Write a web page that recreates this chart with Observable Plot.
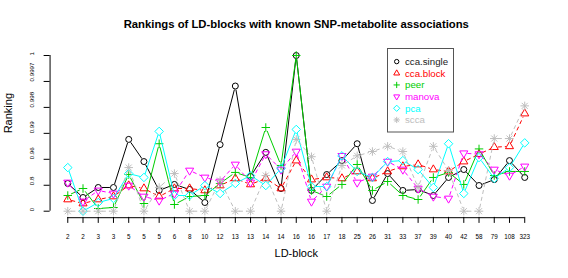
<!DOCTYPE html>
<html><head><meta charset="utf-8">
<script src="https://cdn.jsdelivr.net/npm/d3@7"></script>
<script src="https://cdn.jsdelivr.net/npm/@observablehq/plot@0.6"></script>
<style>
body{margin:0;background:#fff}
#wrap{position:relative;width:568px;height:278px;overflow:hidden}
#legend{position:absolute;left:387px;top:48px}
</style>
</head><body><div id="wrap"></div>
<script>
// ---- data ----
const blockLabels = ["2","2","3","3","5","5","5","6","8","10","12","13","13","14","14","16","16","17","18","25","26","31","33","37","39","40","42","58","79","108","323"];
const yTicks = [0, 0.8, 0.96, 0.99, 0.998, 0.9997, 1];
const seriesNames = ["cca.single", "cca.block", "peer", "manova", "pca", "scca"];
const seriesColors = ["#000000", "#ff0000", "#00cd00", "#ff00ff", "#00ffff", "#bebebe"];

const ccaSingle = [0.811,0.422,0.731,0.731,0.983,0.946,0.640,0.805,0.669,0.268,0.977,0.9994,0.854,0.968,0.700,1,0.640,0.866,0.952,0.978,0.330,0.872,0.640,0.669,0.484,0.848,0.897,0.792,0.835,0.952,0.848];
const ccaBlock  = [0.361,0.237,0.361,0.453,0.792,0.700,0.453,0.700,0.700,0.640,0.792,0.842,0.805,0.842,0.700,0.952,0.835,0.848,0.842,0.885,0.842,0.885,0.916,0.928,0.897,0.885,0.946,0.966,0.974,0.975,0.9961];
const peer      = [0.484,0.700,0.083,0.114,0.866,0.237,0.978,0.207,0.453,0.484,0.811,0.879,0.848,0.9918,0.922,1,0.640,0.453,0.805,0.928,0.640,0.823,0.484,0.361,0.848,0.879,0.805,0.972,0.860,0.885,0.885];
const manova    = [0.817,0.299,0.640,0.546,0.792,0.453,0.330,0.546,0.891,0.848,0.823,0.928,0.817,0.966,0.897,0.969,0.299,0.761,0.964,0.817,0.854,0.946,0.897,0.700,0.453,0.392,0.967,0.966,0.897,0.860,0.916];
const pca       = [0.909,0,0.268,0.392,0.872,0.848,0.9906,0.484,0.484,0.792,0.546,0.811,0.860,0.792,0.903,0.9912,0.761,0.761,0.964,0.885,0.848,0.946,0.952,0.897,0.731,0.978,0.546,0.962,0.842,0.909,0.979];
const scca      = [0,0,0,0,0.909,0,0.731,0.872,0,0,0.829,0,0,0.860,0,0.983,0.963,0,0.922,0.964,0.969,0.975,0.969,0.731,0.975,0.891,0,0,0.984,0.984,0.9981];
const seriesValues = [ccaSingle, ccaBlock, peer, manova, pca, scca];

// ---- R-like point symbols (pch 1, 2, 3, 6, 5, 8) ----
function sym(fn){ return {draw(ctx, size){ fn(ctx, Math.sqrt(size / Math.PI)); }}; }
const pchCircle = sym((c, r) => { c.moveTo(r, 0); c.arc(0, 0, r, 0, 2 * Math.PI); });
const pchTriUp = sym((c, r) => { c.moveTo(0, -1.5551 * r); c.lineTo(1.3468 * r, 0.7776 * r); c.lineTo(-1.3468 * r, 0.7776 * r); c.closePath(); });
const pchPlus = sym((c, r) => { const a = 1.4142 * r; c.moveTo(-a, 0); c.lineTo(a, 0); c.moveTo(0, -a); c.lineTo(0, a); });
const pchTriDown = sym((c, r) => { c.moveTo(0, 1.5551 * r); c.lineTo(1.3468 * r, -0.7776 * r); c.lineTo(-1.3468 * r, -0.7776 * r); c.closePath(); });
const pchDiamond = sym((c, r) => { const a = 1.4142 * r; c.moveTo(0, -a); c.lineTo(a, 0); c.lineTo(0, a); c.lineTo(-a, 0); c.closePath(); });
const pchStar = sym((c, r) => { const a = 1.4142 * r; c.moveTo(-r, -r); c.lineTo(r, r); c.moveTo(-r, r); c.lineTo(r, -r); c.moveTo(-a, 0); c.lineTo(a, 0); c.moveTo(0, -a); c.lineTo(0, a); });
const seriesSymbols = [pchCircle, pchTriUp, pchPlus, pchTriDown, pchDiamond, pchStar];
const seriesDash = [null, "4,3", null, "4,3", null, "4,3"];

// ---- layout ----
const W = 568, H = 278, mTop = 48.8, mBottom = 61.1, mLeft = 49, mRight = 25.5, inX = 17.7, inY = 6.2;
const yBottom = H - mBottom - inY, yTop = mTop + inY;
const yRange = yTicks.map((_, k) => yBottom + k * (yTop - yBottom) / (yTicks.length - 1));
const xRange = [mLeft + inX, W - mRight - inX];

// helper scales identical to the plot's, used to leave R-style gaps (type = "b") around the points
const xs = d3.scaleLinear().domain([0, 30]).range(xRange);
const ys = d3.scaleLinear().domain(yTicks).range(yRange);
const GAP = 3.6;
function gappedSegments(values) {
  const segs = [];
  for (let i = 0; i < values.length - 1; i++) {
    const px1 = xs(i), py1 = ys(values[i]), px2 = xs(i + 1), py2 = ys(values[i + 1]);
    const dx = px2 - px1, dy = py2 - py1, len = Math.hypot(dx, dy);
    if (len <= 2 * GAP) continue;
    const ux = dx / len, uy = dy / len;
    segs.push({
      x1: xs.invert(px1 + ux * GAP), y1: ys.invert(py1 + uy * GAP),
      x2: xs.invert(px2 - ux * GAP), y2: ys.invert(py2 - uy * GAP)
    });
  }
  return segs;
}
// y-axis tick marks: 6px to the left of the axis line
const yTickX1 = xs.invert(mLeft - 6), yTickX2 = xs.invert(mLeft);

const marks = [
  Plot.ruleY([0], {x1: 0, x2: 30, dy: 6.5, stroke: "black", strokeWidth: 1}),
  Plot.ruleX([0], {y1: 0, y2: 1, dx: -inX, stroke: "black", strokeWidth: 1}),
  Plot.ruleY(yTicks, {y: d => d, x1: () => yTickX1, x2: () => yTickX2, stroke: "black", strokeWidth: 1}),
  Plot.text(yTicks, {y: d => d, text: d => String(d), frameAnchor: "left", rotate: -90, dx: -17, fontSize: 6.2, fill: "black"}),
  Plot.text(["Rankings of LD-blocks with known SNP-metabolite associations"], {text: d => d, frameAnchor: "top", dy: -29, fontSize: 11.3, fontWeight: "bold", fill: "black"}),
  Plot.text(["Ranking"], {text: d => d, frameAnchor: "left", dx: -41, rotate: -90, fontSize: 11, fill: "black"}),
  Plot.text(["LD-block"], {text: d => d, frameAnchor: "bottom", dy: 40, fontSize: 11, fill: "black"})
];
seriesNames.forEach((name, s) => {
  const data = seriesValues[s].map((v, i) => ({i, v, series: name}));
  marks.push(Plot.link(gappedSegments(seriesValues[s]), {x1: "x1", y1: "y1", x2: "x2", y2: "y2", stroke: seriesColors[s], strokeWidth: 1, strokeDasharray: seriesDash[s]}));
  marks.push(Plot.dot(data, {x: "i", y: "v", stroke: seriesColors[s], symbol: seriesSymbols[s], r: 3, strokeWidth: 1, fill: "none"}));
});

const chart = Plot.plot({
  width: W, height: H,
  marginTop: mTop, marginBottom: mBottom, marginLeft: mLeft, marginRight: mRight,
  style: {fontFamily: "'Liberation Sans', Arial, sans-serif", fontSize: "6.3px", background: "white", color: "black", overflow: "visible"},
  x: {domain: [-1.2, 31.2], range: [mLeft, W - mRight], ticks: d3.range(31), tickFormat: i => blockLabels[i], tickSize: 6, tickPadding: 11, label: null},
  y: {type: "linear", domain: yTicks, range: yRange, axis: null},
  marks
});
const wrap = document.getElementById("wrap");
wrap.appendChild(chart);

// ---- legend ----
const leg = d3.create("svg").attr("id", "legend").attr("width", 67).attr("height", 85);
leg.append("rect").attr("x", 0.5).attr("y", 0.5).attr("width", 66).attr("height", 83.5).attr("fill", "white").attr("stroke", "#555").attr("stroke-width", 1);
seriesNames.forEach((name, s) => {
  const cy = 13.6 + s * 11.67;
  const p = d3.path();
  seriesSymbols[s].draw(p, 2.2 * 2.2 * Math.PI);
  leg.append("path").attr("d", p.toString()).attr("transform", `translate(9.7,${cy})`)
    .attr("fill", "none").attr("stroke", seriesColors[s]).attr("stroke-width", 1);
  leg.append("text").attr("x", 18).attr("y", cy).attr("dy", "0.35em")
    .attr("font-family", "'Liberation Sans', Arial, sans-serif").attr("font-size", 9.7)
    .attr("fill", s === 0 ? "#222" : seriesColors[s]).text(name);
});
wrap.appendChild(leg.node());
</script>
</body></html>
